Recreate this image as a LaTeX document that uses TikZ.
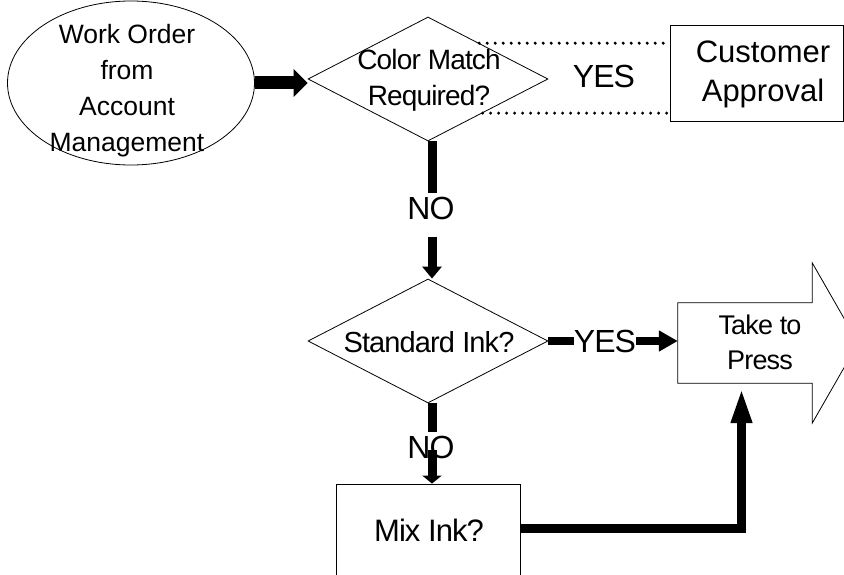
\documentclass[tikz,border=0pt]{standalone}
\usepackage{fontspec}
\setmainfont{Liberation Sans}
\newfontfamily\tightsans[LetterSpace=-3]{Liberation Sans}
\usetikzlibrary{shapes.geometric,arrows.meta,calc}
\newcommand\fsz[2]{\fontsize{#1pt}{#2pt}\selectfont}
\begin{document}
\begin{tikzpicture}[x=1pt,y=-1pt,
  outline/.style={draw=black, line width=0.8pt, fill=white, inner sep=0pt},
  decision/.style={outline, diamond, minimum width=240pt, minimum height=124pt},
  lbl/.style={inner sep=0pt, align=center, font=#1},
  flow/.style={draw=black, line width=9pt},
  yesline/.style={draw=black, line width=3.3pt, dash pattern=on 0pt off 8pt, line cap=round},
]
\useasboundingbox (0,0) rectangle (844,575);

% shapes
\node[outline, ellipse, minimum width=247pt, minimum height=164pt] (order) at (131,83) {};
\node[lbl={\fsz{26.5}{36}}] (ordertxt) at (127,90.5) {Work Order\\from\\Account\\Management};

\node[decision] (color) at (428,79) {};
\node[lbl={\tightsans\fsz{28}{36}}] (colortxt) at (429,80) {Color Match\\Required?};

\node[outline, rectangle, minimum width=173pt, minimum height=96pt] (cust) at (756.5,73) {};
\node[lbl={\fsz{31}{39}}] (custtxt) at (763,74) {Customer\\Approval};

\node[lbl={\tightsans\fsz{32}{36}}] (yes1) at (604,76) {YES};
\node[lbl={\tightsans\fsz{32}{36}}] (no1) at (431,208) {NO};

\node[decision] (std) at (428,341) {};
\node[lbl={\tightsans\fsz{29}{36}}] (stdtxt) at (429,342) {Standard Ink?};

\node[lbl={\tightsans\fsz{32}{36}}] (yes2) at (605,341) {YES};
\node[lbl={\tightsans\fsz{32}{36}}] (no2) at (431,447) {NO};

\node[outline, rectangle, minimum width=184pt, minimum height=116pt] (mix) at (428,542) {};
\node[lbl={\tightsans\fsz{31}{36}}] (mixtxt) at (429,530) {Mix Ink?};

% block arrow "Take to Press": body node plus outline with head
\node[inner sep=0pt, minimum width=134pt, minimum height=80pt] (press) at (745,343) {};
\draw[line width=0.8pt, fill=white]
  (press.north west) -- (press.north east) -- ($(press.north east)+(0,-40)$)
  -- ($(press.east)+(46,0)$) -- ($(press.south east)+(0,40)$)
  -- (press.south east) -- (press.south west) -- cycle;
\node[lbl={\tightsans\fsz{27}{35}}] (presstxt) at (760,342.5) {Take to\\Press};

% connectors
\draw[line width=13pt, -{Triangle[length=14pt,width=27pt]}]
  (order.east) -- (order.east -| color.west);

\draw[yesline] (color.35.6) -- (cust.west |- color.35.6);
\draw[yesline] (color.-32.1) -- (cust.west |- color.-32.1);

\draw[flow] ($(color.south)+(4,0)$) -- ($(color.south |- no1.north)+(4,-3)$);
\draw[flow, -{Triangle[length=12pt,width=19pt]}]
  ($(std.north |- no1.south)+(4,17)$) -- ($(std.north)+(4,0)$);

\draw[line width=8pt] (std.east) -- (std.east -| yes2.west);
\draw[line width=8pt, -{Triangle[length=19pt,width=20pt]}]
  (yes2.east) -- (yes2.east -| press.west);

\draw[flow] ($(std.south)+(4,0)$) -- ($(std.south |- no2.north)+(4,-3)$);
\draw[flow, -{Triangle[length=8pt,width=19pt]}]
  ($(mix.north |- no2.center)+(4,3)$) -- ($(mix.north)+(4,0)$);

\draw[flow, line join=miter, -{Triangle[length=36pt,width=19pt]}]
  ($(mix.east)+(0,-14)$) -| ($(press.south)+(-3.5,4)$);
\end{tikzpicture}
\end{document}
